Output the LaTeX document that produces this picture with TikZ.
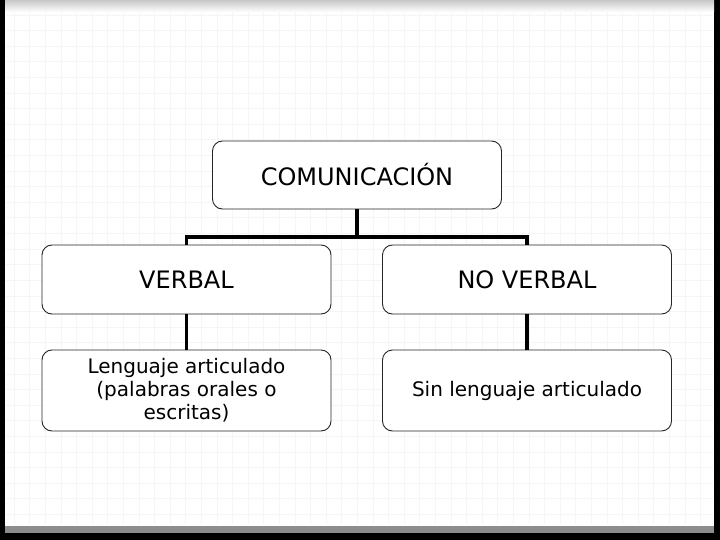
\documentclass[tikz,border=0pt]{standalone}
\usepackage{fontspec}
\setmainfont{DejaVu Sans}
\usetikzlibrary{positioning}

\begin{document}
\begin{tikzpicture}[x=1pt, y=-1pt,
	box/.style={draw=black!85, line width=0.9pt, rounded corners=10pt, fill=white,
		minimum width=289pt, align=center, inner sep=0pt},
	link/.style={draw=black, line width=3.6pt}]
	% Slide background
	\useasboundingbox (0, 0) rectangle (720, 540);
	\fill[black] (0, 0) rectangle (720, 540);
	\fill[black!45] (5, 0) rectangle (714, 533);
	\fill[white] (5, 0) rectangle (714, 526);
	\shade[top color=black!22, bottom color=white] (5, 0) rectangle (714, 12);
	\foreach \gx in {14, 29.6, ..., 712} \draw[black!4, line width=0.6pt] (\gx, 12) -- (\gx, 524);
	\foreach \gy in {15, 30.6, ..., 524} \draw[black!4, line width=0.6pt] (6, \gy) -- (713, \gy);
	
	% Boxes
	\node[box, minimum height=68pt, font=\fontsize{24}{28}\selectfont] (com) at (357, 175) {COMUNICACIÓN};
	\node[box, minimum height=69pt, font=\fontsize{24}{28}\selectfont] (verbal) at (186.5, 279.5) {VERBAL};
	\node[box, minimum height=69pt, font=\fontsize{24}{28}\selectfont] (noverbal) at (527, 279.5) {NO VERBAL};
	\node[box, minimum height=81pt, font=\fontsize{20}{23}\selectfont] (lenguaje) at (186.5, 390.5) {Lenguaje articulado\\(palabras orales o\\escritas)};
	\node[box, minimum height=81pt, font=\fontsize{20}{23}\selectfont] (sinlenguaje) at (527, 390.5) {Sin lenguaje articulado};
	
	% Connectors
	\coordinate (split) at (357, 237);
	\draw[link] (com.south) -- (split);
	\draw[link] (split) -| (verbal.north);
	\draw[link] (split) -| (noverbal.north);
	\draw[link] (verbal.south) -- (lenguaje.north);
	\draw[link] (noverbal.south) -- (sinlenguaje.north);
\end{tikzpicture}
\end{document}
